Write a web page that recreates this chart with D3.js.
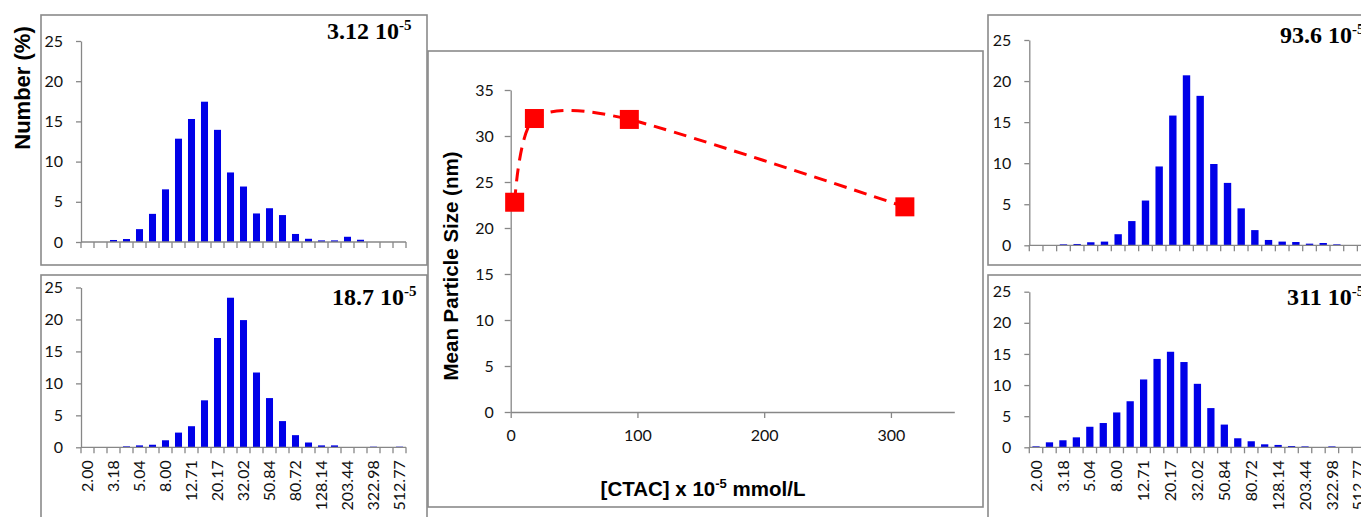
<!DOCTYPE html>
<html><head><meta charset="utf-8">
<script src="https://cdn.jsdelivr.net/npm/d3@7/dist/d3.min.js"></script>
<style>
html,body{margin:0;padding:0;background:#fff;}
svg{display:block;}
</style></head><body>
<svg id="chart" width="1361" height="517"></svg>
<script>
// ---------- data ----------
const sizeLabels = ["2.00","2.52","3.18","4.00","5.04","6.35","8.00","10.08","12.71","16.01","20.17","25.42","32.02","40.35","50.84","64.05","80.72","101.70","128.14","161.44","203.44","256.32","322.98","406.91","512.77"];
const shownSizeLabels = ["2.00","3.18","5.04","8.00","12.71","20.17","32.02","50.84","80.72","128.14","203.44","322.98","512.77"];
const number312 = [0,0,0.25,0.37,1.6,3.5,6.55,12.85,15.3,17.45,13.95,8.65,6.9,3.55,4.2,3.35,1.0,0.4,0.2,0.2,0.65,0.28,0,0,0];
const number187 = [0,0,0,0.15,0.3,0.4,1.1,2.3,3.3,7.35,17.1,23.4,19.9,11.7,7.7,4.1,1.9,0.75,0.3,0.3,0,0,0.1,0,0.1];
const number936 = [0,0,0.12,0.16,0.37,0.45,1.35,2.95,5.45,9.6,15.8,20.7,18.2,9.9,7.6,4.5,1.85,0.65,0.45,0.4,0.2,0.28,0.12,0,0];
const number311 = [0.16,0.8,1.13,1.6,3.3,3.9,5.6,7.4,10.9,14.2,15.35,13.7,10.2,6.3,3.65,1.45,0.97,0.48,0.38,0.2,0.15,0,0.15,0,0];
const panelTitles = ["3.12 10", "18.7 10", "93.6 10", "311 10"];
const titleExponent = "-5";
const histYTicks = [0,5,10,15,20,25];
const ctac = [3.12, 18.7, 93.6, 311];
const meanSize = [22.8, 31.9, 31.8, 22.3];
const meanYTicks = [0,5,10,15,20,25,30,35];
const meanXTicks = [0,100,200,300];

// ---------- style ----------
const blue = "#0000e8", red = "#ff0000";
const frame = "#8a8a8a", axisCol = "#878787", txt = "#111";
const tickFont = "Lato, 'Open Sans', sans-serif";
const svg = d3.select("#chart");

function box(x, y, w, h) {
  svg.append("rect").attr("x", x).attr("y", y).attr("width", w).attr("height", h)
    .attr("fill", "#fff").attr("stroke", frame).attr("stroke-width", 1.6);
}

function styleAxis(g) {
  g.selectAll("path.domain").attr("stroke", axisCol).attr("stroke-width", 1.3);
  g.selectAll(".tick line").attr("stroke", axisCol).attr("stroke-width", 1.3);
  g.selectAll(".tick text").attr("font-family", tickFont).attr("font-size", 16).attr("fill", txt);
}

function histogram(p, values, title, showLabels) {
  box(p.bx, p.by, p.bw, p.bh);
  const x = d3.scaleBand().domain(sizeLabels)
    .range([p.x0, p.x0 + p.step * sizeLabels.length])
    .paddingInner(0.46).paddingOuter(0.23);
  const y = d3.scaleLinear().domain([0, 25]).range([p.yb, p.yt]);
  const g = svg.append("g");
  g.selectAll("rect.bar").data(values).join("rect").attr("class", "bar")
    .attr("x", (d, i) => x(sizeLabels[i])).attr("width", x.bandwidth())
    .attr("y", d => y(d)).attr("height", d => y(0) - y(d)).attr("fill", blue);

  // y axis
  const ya = g.append("g").attr("transform", `translate(${p.x0},0)`)
    .call(d3.axisLeft(y).tickValues(histYTicks).tickSize(5).tickPadding(13).tickSizeOuter(0));
  styleAxis(ya);

  // x axis: line + boundary ticks
  const xg = g.append("g");
  const step = x.step();
  const x0 = x.range()[0];
  xg.append("line").attr("x1", x0).attr("x2", x.range()[1]).attr("y1", y(0)).attr("y2", y(0))
    .attr("stroke", axisCol).attr("stroke-width", 1.3);
  xg.selectAll("line.bt").data(d3.range(sizeLabels.length + 1)).join("line").attr("class", "bt")
    .attr("x1", i => x0 + i * step).attr("x2", i => x0 + i * step)
    .attr("y1", y(0)).attr("y2", y(0) + 6).attr("stroke", axisCol).attr("stroke-width", 1.3);
  if (showLabels) {
    xg.selectAll("text").data(shownSizeLabels).join("text")
      .attr("transform", d => `translate(${x(d) + x.bandwidth() / 2},${y(0) + 13}) rotate(-90)`)
      .attr("text-anchor", "end").attr("dy", "0.35em")
      .attr("font-family", tickFont).attr("font-size", 16).attr("fill", txt)
      .text(d => d);
  }
  // panel title
  const t = svg.append("text").attr("x", p.tx).attr("y", p.ty)
    .attr("font-family", "'Liberation Serif', 'Times New Roman', serif")
    .attr("font-weight", "bold").attr("font-size", 24).attr("fill", "#000");
  t.append("tspan").text(title);
  t.append("tspan").attr("dy", -9).attr("font-size", 15).text(titleExponent);
}

// left panels
histogram({bx: 41, by: 15, bw: 386, bh: 250, x0: 81, step: 13, yb: 242, yt: 41, tx: 327, ty: 39}, number312, panelTitles[0], false);
histogram({bx: 41, by: 275, bw: 386, bh: 270, x0: 81, step: 13, yb: 447.3, yt: 287.5, tx: 332, ty: 305}, number187, panelTitles[1], true);

// ---------- middle chart ----------
box(428, 51, 555, 456);
const mx = d3.scaleLinear().domain([0, 350]).range([510.7, 954.3]);
const my = d3.scaleLinear().domain([0, 35]).range([412, 90]);
const mg = svg.append("g");
const mya = mg.append("g").attr("transform", "translate(510.7,0)")
  .call(d3.axisLeft(my).tickValues(meanYTicks).tickSize(6).tickPadding(11).tickSizeOuter(0));
styleAxis(mya);
const mxa = mg.append("g").attr("transform", "translate(0,412)")
  .call(d3.axisBottom(mx).tickValues(meanXTicks).tickSize(6).tickPadding(12).tickSizeOuter(0));
styleAxis(mxa);

const pts = ctac.map((c, i) => [c, meanSize[i]]);
mg.append("path").datum(pts)
  .attr("d", d3.line().x(d => mx(d[0])).y(d => my(d[1])).curve(d3.curveCardinal.tension(0.2)))
  .attr("fill", "none").attr("stroke", red).attr("stroke-width", 3).attr("stroke-dasharray", "13,8");
const sq = 19;
mg.selectAll("rect.pt").data(pts).join("rect").attr("class", "pt")
  .attr("x", d => mx(d[0]) - sq / 2).attr("y", d => my(d[1]) - sq / 2)
  .attr("width", sq).attr("height", sq).attr("fill", red);

mg.append("text").attr("transform", "translate(451,266) rotate(-90)")
  .attr("text-anchor", "middle").attr("dy", "0.35em")
  .attr("font-family", "'Liberation Sans', Arial, sans-serif").attr("font-weight", "bold")
  .attr("font-size", 20.5).attr("fill", "#000").text("Mean Particle Size (nm)");
const xt = mg.append("text").attr("x", 703).attr("y", 496).attr("text-anchor", "middle")
  .attr("font-family", "'Liberation Sans', Arial, sans-serif").attr("font-weight", "bold")
  .attr("font-size", 20.5).attr("fill", "#000");
xt.append("tspan").text("[CTAC] x 10");
xt.append("tspan").attr("dy", -8).attr("font-size", 13).text("-5");
xt.append("tspan").attr("dy", 8).text(" mmol/L");

// ---------- right panels ----------
histogram({bx: 988, by: 15, bw: 420, bh: 250, x0: 1029.3, step: 13.67, yb: 245.3, yt: 40, tx: 1280, ty: 43}, number936, panelTitles[2], false);
histogram({bx: 988, by: 275, bw: 420, bh: 270, x0: 1029.3, step: 13.45, yb: 447.3, yt: 291.7, tx: 1287, ty: 305}, number311, panelTitles[3], true);

// shared y title
svg.append("text").attr("transform", "translate(22,88) rotate(-90)")
  .attr("text-anchor", "middle").attr("dy", "0.35em")
  .attr("font-family", "'Liberation Sans', Arial, sans-serif").attr("font-weight", "bold")
  .attr("font-size", 22).attr("fill", "#000").text("Number (%)");
</script>
</body></html>
